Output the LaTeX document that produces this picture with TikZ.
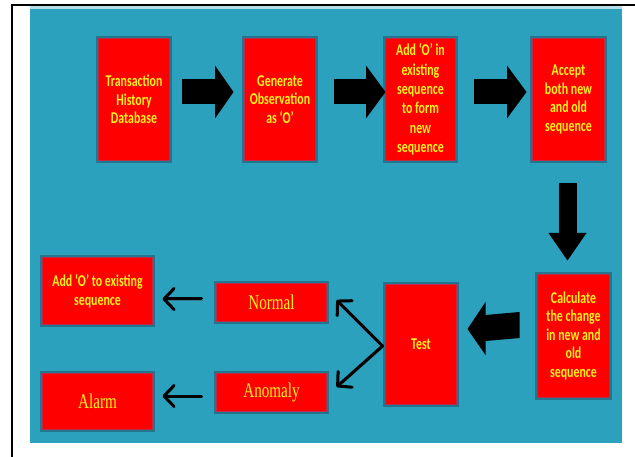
\documentclass[tikz,border=0pt]{standalone}
\usepackage{fontspec}
\usetikzlibrary{arrows.meta,calc}
\newfontfamily\boxsans{Carlito}[FakeStretch=0.72]
\newfontfamily\boxserif{Liberation Serif}[FakeStretch=0.72]
\definecolor{panel}{RGB}{43,161,190}
\definecolor{boxedge}{RGB}{36,118,142}
\definecolor{innerred}{RGB}{185,45,75}
\definecolor{txt}{RGB}{255,240,30}
\begin{document}
\begin{tikzpicture}[x=1pt,y=-1pt,
  box/.style={draw=boxedge, line width=3pt, fill=red, inner sep=0pt, align=center, text=txt},
  sansbox/.style={box, font=\boxsans\bfseries\fontsize{16.5}{18.5}\selectfont},
  serifbox/.style={box, font=\boxserif\fontsize{21}{23}\selectfont},
  innerl/.style={draw=innerred, line width=0.8pt},
  bigarrow/.style={line width=#1, line cap=butt, draw=black},
  thinarrow/.style={line width=3pt, line cap=round, draw=black,
    -{Straight Barb[length=10pt,width=21pt,line cap=round,line join=round]},
    preaction={draw=black!70, opacity=0.45, transform canvas={shift={(1.2pt,-1.2pt)}}}}
]
\useasboundingbox (0,0) rectangle (635,457);
\fill[white] (0,0) rectangle (635,457);
% frame
\draw[line width=2pt] (12,457) -- (12,5);
\draw[line width=1.5pt] (11,5) -- (622,5);
\draw[line width=2.4pt] (621,5.3) -- (635,5.3);
% panel
\fill[panel!35!white] (30,6.5) rectangle (622,9);
\fill[panel] (30,9) rectangle (622,443);

% boxes
\node[sansbox, minimum width=73pt, minimum height=124pt] (b1) at (134,99.5) {Transaction\\History\\Database};
\node[sansbox, minimum width=73pt, minimum height=124pt] (b2) at (280,99.5) {Generate\\Observation\\as ‘O’};
\node[sansbox, minimum width=72pt, minimum height=124pt, font=\boxsans\bfseries\fontsize{16.5}{19.4}\selectfont] (b3) at (420.5,99.5) {Add ‘O’ in\\existing\\sequence\\to form\\new\\sequence};
\node[sansbox, minimum width=74pt, minimum height=124pt] (b4) at (568.5,99.5) {Accept\\both new\\and old\\sequence};
\node[sansbox, minimum width=74pt, minimum height=125pt] (b5) at (573.5,336) {Calculate\\the change\\in new and\\old\\sequence};
\node[sansbox, minimum width=73pt, minimum height=122pt] (b6) at (421,344.5) {Test};
\node[serifbox, minimum width=112pt, minimum height=40pt] (b7) at (271.5,302.5) {Normal};
\node[serifbox, minimum width=112pt, minimum height=40pt] (b8) at (271.5,392.5) {Anomaly};
\node[sansbox, minimum width=112pt, minimum height=69pt] (b9) at (97.5,291) {Add ‘O’ to existing\\sequence};
\node[serifbox, minimum width=112pt, minimum height=58pt] (b10) at (97.5,401.5) {Alarm};
\foreach \n in {b1,b2,b3,b4,b5,b6,b7,b8,b9,b10}
  \draw[innerl] ($(\n.north west)+(2.5,2.5)$) rectangle ($(\n.south east)+(-2.5,-2.5)$);

% big block arrows
\draw[bigarrow=25pt] ($(b1.east)+(9.5,-7.5)$) -- ($(b2.west)+(-26.5,-7.5)$) coordinate (a1e);
\fill ($(a1e)+(-0.5,-26.5)$) -- ($(b2.west)+(-8.5,-7.5)$) -- ($(a1e)+(-0.5,26.5)$) -- cycle;
\draw[bigarrow=25pt] ($(b2.east)+(15.5,-7.5)$) -- ($(b3.west)+(-16.5,-7.5)$) coordinate (a2e);
\fill ($(a2e)+(-0.5,-26.5)$) -- ($(b3.west)+(2.5,-7.5)$) -- ($(a2e)+(-0.5,26.5)$) -- cycle;
\draw[bigarrow=25pt] ($(b3.east)+(15.5,-7.5)$) -- ($(b4.west)+(-22.5,-7.5)$) coordinate (a3e);
\fill ($(a3e)+(-0.5,-26.5)$) -- ($(b4.west)+(-3.5,-7.5)$) -- ($(a3e)+(-0.5,26.5)$) -- cycle;
\draw[bigarrow=18pt] ($(b4.south)+(-1,20.5)$) -- ($(b5.north)+(-6,-38.5)$) coordinate (a4e);
\fill ($(a4e)+(-19,-0.5)$) -- ($(b5.north)+(-6,-11.5)$) -- ($(a4e)+(19,-0.5)$) -- cycle;
% tilted arrow from Calculate to Test
\fill ($(b5.west)+(-15.5,-24)$) -- ($(b6.east)+(26.5,-29.5)$) -- ($(b6.east)+(26.5,-42.5)$)
  -- ($(b6.east)+(8.5,-15.5)$) -- ($(b6.east)+(26.5,10.5)$) -- ($(b6.east)+(26.5,-3.5)$)
  -- ($(b5.west)+(-15.5,2)$) -- cycle;

% thin arrows
\draw[thinarrow] ($(b6.west)+(-0.5,1.5)$) -- ($(b7.east)+(7.5,-2.5)$);
\draw[thinarrow] ($(b6.west)+(-0.5,1.5)$) -- ($(b8.east)+(7.5,-5.5)$);
\draw[thinarrow] ($(b7.west)+(-12.5,-3.5)$) -- ($(b9.east)+(7.5,8)$);
\draw[thinarrow] ($(b8.west)+(-12.5,3.5)$) -- ($(b10.east)+(7.5,-5.5)$);
\end{tikzpicture}
\end{document}
